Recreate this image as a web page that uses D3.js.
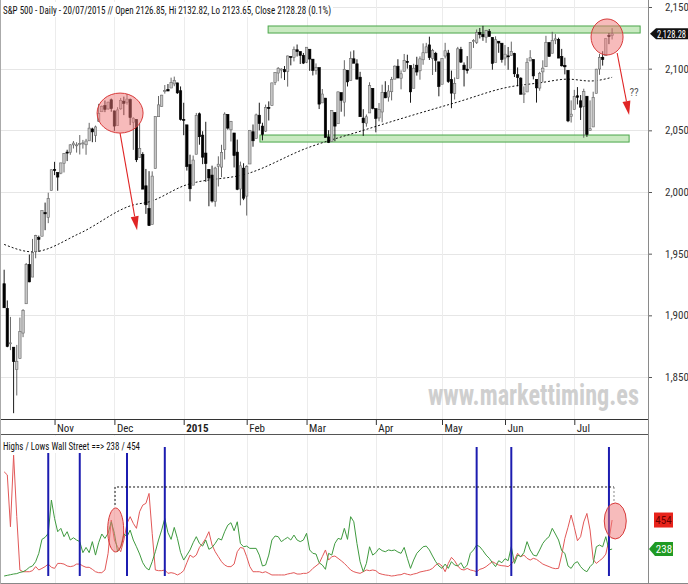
<!DOCTYPE html>
<html><head><meta charset="utf-8">
<script src="https://cdn.jsdelivr.net/npm/d3@7"></script>
<style>body{margin:0;background:#fff}svg{display:block}</style>
</head><body>
<svg id="chart" width="688" height="584"></svg>
<script>
// ---------- DATA ----------
const dates = [
"2014-10-10","2014-10-13","2014-10-14","2014-10-15","2014-10-16","2014-10-17","2014-10-20","2014-10-21","2014-10-22","2014-10-23","2014-10-24","2014-10-27","2014-10-28","2014-10-29","2014-10-30","2014-10-31",
"2014-11-03","2014-11-04","2014-11-05","2014-11-06","2014-11-07","2014-11-10","2014-11-11","2014-11-12","2014-11-13","2014-11-14","2014-11-17","2014-11-18","2014-11-19","2014-11-20","2014-11-21","2014-11-24","2014-11-25","2014-11-26","2014-11-28",
"2014-12-01","2014-12-02","2014-12-03","2014-12-04","2014-12-05","2014-12-08","2014-12-09","2014-12-10","2014-12-11","2014-12-12","2014-12-15","2014-12-16","2014-12-17","2014-12-18","2014-12-19","2014-12-22","2014-12-23","2014-12-24","2014-12-26","2014-12-29","2014-12-30","2014-12-31",
"2015-01-02","2015-01-05","2015-01-06","2015-01-07","2015-01-08","2015-01-09","2015-01-12","2015-01-13","2015-01-14","2015-01-15","2015-01-16","2015-01-20","2015-01-21","2015-01-22","2015-01-23","2015-01-26","2015-01-27","2015-01-28","2015-01-29","2015-01-30",
"2015-02-02","2015-02-03","2015-02-04","2015-02-05","2015-02-06","2015-02-09","2015-02-10","2015-02-11","2015-02-12","2015-02-13","2015-02-17","2015-02-18","2015-02-19","2015-02-20","2015-02-23","2015-02-24","2015-02-25","2015-02-26","2015-02-27",
"2015-03-02","2015-03-03","2015-03-04","2015-03-05","2015-03-06","2015-03-09","2015-03-10","2015-03-11","2015-03-12","2015-03-13","2015-03-16","2015-03-17","2015-03-18","2015-03-19","2015-03-20","2015-03-23","2015-03-24","2015-03-25","2015-03-26","2015-03-27","2015-03-30","2015-03-31",
"2015-04-01","2015-04-02","2015-04-06","2015-04-07","2015-04-08","2015-04-09","2015-04-10","2015-04-13","2015-04-14","2015-04-15","2015-04-16","2015-04-17","2015-04-20","2015-04-21","2015-04-22","2015-04-23","2015-04-24","2015-04-27","2015-04-28","2015-04-29","2015-04-30",
"2015-05-01","2015-05-04","2015-05-05","2015-05-06","2015-05-07","2015-05-08","2015-05-11","2015-05-12","2015-05-13","2015-05-14","2015-05-15","2015-05-18","2015-05-19","2015-05-20","2015-05-21","2015-05-22","2015-05-26","2015-05-27","2015-05-28","2015-05-29",
"2015-06-01","2015-06-02","2015-06-03","2015-06-04","2015-06-05","2015-06-08","2015-06-09","2015-06-10","2015-06-11","2015-06-12","2015-06-15","2015-06-16","2015-06-17","2015-06-18","2015-06-19","2015-06-22","2015-06-23","2015-06-24","2015-06-25","2015-06-26","2015-06-29","2015-06-30",
"2015-07-01","2015-07-02","2015-07-06","2015-07-07","2015-07-08","2015-07-09","2015-07-10","2015-07-13","2015-07-14","2015-07-15","2015-07-16","2015-07-17","2015-07-20"];

const opens = [
1925.63,1905.65,1877.11,1874.18,1855.95,1864.91,1885.62,1909.38,1941.29,1931.02,1951.59,1962.97,1964.14,1983.29,1979.49,2001.20,
2018.21,2015.81,2015.29,2023.33,2032.36,2032.01,2038.20,2037.75,2039.21,2039.74,2038.29,2041.48,2051.16,2045.87,2057.46,2065.07,2070.15,2067.36,2074.78,
2065.78,2053.77,2067.45,2073.64,2072.78,2074.84,2056.55,2058.86,2027.92,2030.36,2005.03,1986.71,1973.77,2018.98,2061.04,2069.28,2081.48,2083.25,2084.30,2087.63,2088.49,2082.11,
2058.90,2054.44,2022.15,2005.55,2030.61,2063.45,2046.13,2031.58,2018.40,2013.75,1992.25,2020.76,2020.19,2034.30,2062.98,2050.42,2047.86,2032.34,2002.45,2019.35,
1996.67,2022.71,2048.86,2043.45,2062.28,2053.47,2049.38,2068.55,2069.98,2088.78,2096.47,2099.16,2099.25,2097.65,2109.83,2109.10,2115.30,2113.91,2110.88,
2105.23,2115.76,2107.72,2098.54,2100.91,2072.25,2076.14,2044.69,2041.10,2064.56,2055.35,2080.59,2072.84,2098.69,2090.32,2107.99,2103.94,2093.10,2059.94,2055.78,2064.11,2084.05,
2067.63,2060.03,2064.87,2080.79,2076.94,2081.29,2091.51,2102.03,2092.28,2097.82,2105.96,2102.58,2084.11,2102.82,2098.27,2107.21,2112.80,2119.29,2108.35,2112.49,2105.52,
2087.38,2110.23,2112.63,2091.26,2079.96,2092.13,2115.56,2102.87,2099.62,2100.43,2122.07,2121.30,2129.45,2127.79,2125.55,2130.36,2125.34,2105.13,2122.27,2120.66,
2108.64,2110.41,2110.64,2112.35,2095.09,2092.34,2079.07,2081.12,2106.24,2107.43,2091.34,2084.26,2097.40,2101.58,2121.06,2112.50,2123.16,2123.65,2109.96,2102.62,2098.63,2061.19,
2067.00,2078.03,2073.95,2069.52,2077.66,2049.73,2052.74,2080.03,2099.72,2109.22,2110.55,2126.80,2126.85];

const highs = [
1936.98,1912.09,1898.71,1874.18,1876.01,1898.16,1905.03,1942.45,1949.31,1961.95,1965.27,1964.64,1985.05,1991.40,1999.40,2018.19,
2024.46,2015.98,2023.77,2031.61,2034.26,2038.70,2041.28,2040.33,2046.18,2042.22,2043.07,2056.08,2052.14,2053.84,2071.46,2070.17,2074.21,2073.29,2075.76,
2065.78,2068.77,2076.28,2077.34,2079.47,2075.78,2060.60,2058.86,2055.53,2032.25,2018.69,2016.89,2016.75,2061.23,2077.85,2078.76,2086.73,2087.56,2092.70,2093.55,2088.49,2085.58,
2072.36,2054.44,2030.25,2029.61,2064.08,2064.43,2049.30,2056.93,2018.40,2021.35,2020.46,2028.94,2038.29,2064.62,2062.98,2057.62,2047.86,2042.49,2024.64,2023.32,
2021.66,2050.30,2054.74,2063.55,2072.40,2056.16,2070.86,2073.48,2088.53,2097.03,2101.30,2100.23,2102.13,2110.61,2110.05,2117.94,2119.59,2113.91,2112.74,
2117.52,2115.76,2107.72,2104.25,2100.91,2083.49,2076.14,2050.08,2066.41,2064.56,2081.41,2080.59,2106.85,2098.69,2113.92,2114.86,2107.63,2097.43,2067.15,2062.83,2088.97,2084.05,
2067.63,2072.17,2086.99,2089.81,2086.69,2093.31,2102.61,2107.65,2098.62,2111.91,2111.30,2102.58,2103.94,2109.64,2109.98,2120.49,2120.92,2125.92,2116.04,2113.65,2105.52,
2108.41,2120.95,2115.24,2098.42,2092.90,2117.66,2117.69,2105.06,2110.19,2121.45,2123.89,2131.78,2133.02,2134.72,2131.42,2132.15,2125.34,2126.22,2122.27,2120.66,
2119.15,2117.59,2121.92,2112.89,2100.99,2093.01,2085.62,2108.50,2115.02,2107.43,2091.34,2097.40,2106.79,2126.65,2121.64,2129.87,2128.03,2125.10,2116.04,2108.92,2098.63,2074.28,
2082.78,2085.06,2078.61,2083.74,2077.66,2074.28,2081.31,2099.88,2111.98,2114.14,2124.42,2128.91,2132.82];

const lows = [
1906.05,1874.14,1871.79,1820.66,1835.02,1864.91,1882.30,1909.38,1926.83,1931.02,1946.27,1951.37,1964.14,1969.04,1974.75,2001.20,
2013.68,2001.01,2014.42,2015.86,2025.07,2030.17,2035.28,2031.95,2030.44,2035.20,2030.20,2041.48,2040.37,2040.49,2056.75,2065.07,2064.75,2066.62,2065.06,
2049.57,2053.77,2066.65,2062.34,2070.81,2054.27,2034.17,2024.26,2027.92,2002.33,1982.26,1972.56,1973.77,2018.98,2061.03,2069.28,2079.77,2081.86,2084.30,2085.75,2079.53,2057.94,
2046.04,2017.34,1992.44,2005.55,2030.61,2038.33,2022.58,2008.25,1988.44,1991.47,1988.12,2004.49,2012.04,2026.38,2050.54,2040.97,2019.91,2001.49,1989.18,1993.38,
1980.90,2022.71,2036.72,2043.45,2049.97,2041.88,2048.62,2057.99,2069.98,2086.70,2089.80,2092.15,2090.79,2085.44,2102.68,2105.87,2109.89,2103.76,2103.75,
2104.50,2098.26,2094.49,2095.22,2067.27,2072.21,2044.16,2039.69,2041.10,2041.17,2055.35,2065.08,2061.23,2085.56,2090.32,2104.42,2091.50,2061.05,2045.50,2052.96,2064.11,2067.04,
2048.38,2057.32,2056.52,2076.10,2073.30,2074.29,2091.51,2092.33,2083.24,2097.82,2100.02,2072.37,2084.11,2094.38,2091.05,2103.19,2112.80,2107.04,2094.89,2097.41,2077.59,
2087.38,2108.29,2088.46,2067.93,2074.99,2092.13,2104.58,2085.57,2096.04,2100.43,2116.81,2120.01,2124.50,2122.59,2120.94,2126.06,2099.18,2105.13,2112.86,2104.89,
2102.54,2099.14,2110.64,2093.23,2085.67,2079.11,2072.14,2081.12,2106.24,2091.33,2072.49,2082.10,2088.86,2101.58,2109.45,2112.50,2119.89,2108.58,2101.78,2095.38,2056.64,2056.32,
2067.00,2071.02,2058.40,2044.02,2044.66,2049.73,2052.74,2080.03,2095.02,2102.49,2110.55,2119.88,2123.65];

const closes = [
1906.13,1874.74,1877.70,1862.49,1862.76,1886.76,1904.01,1941.28,1927.11,1950.82,1964.58,1961.63,1985.05,1982.30,1994.65,2018.05,
2017.81,2012.10,2023.57,2031.21,2031.92,2038.26,2039.68,2038.25,2039.33,2039.82,2041.32,2051.80,2048.72,2052.75,2063.50,2069.41,2067.03,2072.83,2067.56,
2053.44,2066.55,2074.33,2071.92,2075.37,2060.31,2059.82,2026.14,2035.33,2002.33,1989.63,1972.74,2012.89,2061.23,2070.65,2078.54,2082.17,2081.88,2088.77,2090.57,2080.35,2058.90,
2058.20,2020.58,2002.61,2025.90,2062.14,2044.81,2028.26,2023.03,2011.27,1992.67,2019.42,2022.55,2032.12,2063.15,2051.82,2057.09,2029.55,2002.16,2021.25,1994.99,
2020.85,2050.03,2041.51,2062.52,2055.47,2046.74,2068.59,2068.53,2088.48,2096.99,2100.34,2099.68,2097.45,2110.30,2109.66,2115.48,2113.86,2110.74,2104.50,
2117.39,2107.78,2098.53,2101.04,2071.26,2079.43,2044.16,2040.24,2065.95,2053.40,2081.19,2074.28,2099.50,2089.27,2108.10,2104.42,2091.50,2061.05,2056.15,2061.02,2086.24,2067.89,
2059.69,2066.96,2080.62,2076.33,2081.90,2091.18,2102.06,2092.43,2095.84,2106.63,2104.99,2081.18,2100.40,2097.29,2107.96,2112.93,2117.69,2108.92,2114.76,2106.85,2085.51,
2108.29,2114.49,2089.46,2080.15,2088.00,2116.10,2105.33,2099.12,2098.48,2121.10,2122.73,2129.20,2127.83,2125.85,2130.82,2126.06,2104.20,2123.48,2120.79,2107.39,
2111.73,2109.60,2114.07,2095.84,2092.83,2079.28,2080.15,2105.20,2108.86,2094.11,2084.43,2096.29,2100.44,2121.24,2109.99,2122.85,2124.20,2108.58,2102.31,2101.49,2057.64,2063.11,
2077.42,2076.78,2068.76,2081.34,2046.68,2051.31,2076.62,2099.60,2108.95,2107.40,2124.29,2126.64,2128.28];

// moving average (dotted line)
const maDates  = ["2014-10-10","2014-10-23","2014-11-13","2014-12-09","2014-12-16","2015-01-02","2015-02-03","2015-03-02","2015-03-26","2015-04-16","2015-05-08","2015-06-02","2015-06-16","2015-06-29","2015-07-09","2015-07-20"];
const maValues = [1957.5,1951.5,1966.5,1989.5,1992,2005,2015.5,2035.5,2050,2061,2073,2085,2088.5,2091.5,2090,2093];

// Highs / Lows Wall Street (lower panel)
const lowsCount = [813,790,404,937,479,82,69,69,69,77,107,82,94,107,126,102,94,131,131,126,112,107,112,126,126,112,102,102,87,69,62,62,82,206,454,305,255,218,305,429,479,429,392,516,565,578,652,355,82,77,77,82,57,62,57,45,57,77,136,193,176,193,250,280,317,367,268,218,181,144,119,107,107,126,218,250,243,181,107,69,69,69,62,69,57,45,45,45,45,45,52,57,62,52,52,57,57,69,94,112,131,181,231,156,181,186,169,151,131,107,82,69,62,57,69,82,77,82,77,57,50,45,42,37,40,45,47,57,50,45,52,57,67,72,77,82,94,119,131,112,69,131,176,151,112,87,82,94,82,77,69,87,94,107,126,144,131,119,114,112,107,126,156,206,181,193,169,156,169,161,144,126,116,107,97,92,94,193,317,400,491,400,300,330,440,503,380,160,131,151,169,200,305,454];
const highsCount = [37,42,47,52,55,64,69,82,102,112,144,206,310,325,355,603,466,367,392,330,367,305,322,305,293,211,250,211,293,193,285,350,317,355,441,355,218,255,350,330,379,305,255,201,136,99,82,144,218,305,379,466,360,310,399,317,213,156,193,231,285,330,280,260,305,236,250,280,317,305,367,416,434,374,441,280,255,260,243,243,243,193,112,119,193,305,335,330,293,310,325,305,342,305,293,305,355,231,206,201,136,119,87,206,193,280,317,310,392,310,479,441,280,144,69,131,255,193,211,243,226,218,231,226,231,216,206,250,169,94,156,206,231,255,260,231,186,144,112,94,126,94,144,119,112,136,94,119,206,231,268,255,226,193,169,136,107,151,136,166,151,255,131,193,181,211,293,231,193,186,231,280,310,330,392,350,305,226,206,112,94,131,144,107,82,69,107,131,255,268,255,330,231,238];

const priceTicks = [1850,1900,1950,2000,2050,2100,2150];
const blueLineDates = ["2014-10-30","2014-11-13","2014-12-05","2014-12-23","2015-05-18","2015-06-03","2015-07-17"];

// annotations (data units: bar index / price / count)
const zoneHigh = {from: 83.8, to: 201.9, lo: 2128.9, hi: 2134.6};
const zoneLow  = {from: 81.2, to: 198.4, lo: 2040.5, hi: 2046.2};
const titleText = "S&P 500 - Daily - 20/07/2015 // Open 2126.85, Hi 2132.82, Lo 2123.65, Close 2128.28 (0.1%)";
const lowerTitle = "Highs / Lows Wall Street ==> 238 / 454";
const lastClose = 2128.28, lastHighs = 238, lastLows = 454;

// ---------- CHART ----------
const FONT = "'Liberation Sans Narrow','Arial Narrow','Roboto Condensed','Liberation Sans',Arial,sans-serif";
const svg = d3.select("#chart");
const n = dates.length;
const parse = d3.timeParse("%Y-%m-%d");
const dt = dates.map(parse);
const idxOf = s => dates.indexOf(s);

const x = d3.scaleLinear().domain([0, n - 1]).range([4.15, 612.1]);
const y = d3.scaleLinear().domain([1850, 2150]).range([377, 7]);
const yL = d3.scaleLinear().domain([0, 1000]).range([581, 446.7]);

const defs = svg.append("defs");
defs.append("clipPath").attr("id", "cm").append("rect").attr("x", 0).attr("y", 0).attr("width", 648).attr("height", 419);
defs.append("clipPath").attr("id", "cl").append("rect").attr("x", 0).attr("y", 435).attr("width", 648).attr("height", 148);

const monthIdx = d3.range(1, n).filter(i => dt[i].getMonth() !== dt[i - 1].getMonth());
const monthLabel = i => dt[i].getMonth() === 0 ? String(dt[i].getFullYear()) : d3.timeFormat("%b")(dt[i]);

// grids
const grid = svg.append("g").attr("shape-rendering", "crispEdges");
grid.selectAll(".hg").data(priceTicks).join("line")
  .attr("x1", 0).attr("x2", 648).attr("y1", d => Math.round(y(d)) + 0.5).attr("y2", d => Math.round(y(d)) + 0.5)
  .attr("stroke", "#e6e6e6");
monthIdx.forEach(i => {
  const xx = Math.round(x(i)) + 0.5;
  grid.append("line").attr("x1", xx).attr("x2", xx).attr("y1", 0).attr("y2", 419).attr("stroke", "#ececec");
  grid.append("line").attr("x1", xx).attr("x2", xx).attr("y1", 435).attr("y2", 583).attr("stroke", "#ececec");
});

// watermark
svg.append("text").attr("x", 428).attr("y", 405).attr("textLength", 211).attr("lengthAdjust", "spacingAndGlyphs")
  .attr("font-family", FONT).attr("font-size", 30).attr("font-weight", "bold").attr("fill", "#cfcfcf")
  .text("www.markettiming.es");

const main = svg.append("g").attr("clip-path", "url(#cm)");

// zones
[zoneHigh, zoneLow].forEach(z => {
  main.append("rect").attr("x", x(z.from)).attr("width", x(z.to) - x(z.from))
    .attr("y", y(z.hi)).attr("height", y(z.lo) - y(z.hi))
    .attr("fill", "#bfe6b6").attr("fill-opacity", 0.85).attr("stroke", "#4aa64a").attr("stroke-width", 1);
});

// moving average
const maLine = d3.line().x(d => x(idxOf(d[0]))).y(d => y(d[1])).curve(d3.curveMonotoneX);
main.append("path").datum(maDates.map((d, i) => [d, maValues[i]]))
  .attr("d", maLine).attr("fill", "none").attr("stroke", "#111").attr("stroke-width", 1).attr("stroke-dasharray", "2,2");

// candles
const cg = main.append("g");
d3.range(n).forEach(i => {
  const up = closes[i] >= opens[i];
  const cx = x(i);
  cg.append("line").attr("x1", cx).attr("x2", cx).attr("y1", y(highs[i])).attr("y2", y(lows[i]))
    .attr("stroke", up ? "#555" : "#000").attr("stroke-width", 0.9);
  const top = y(Math.max(opens[i], closes[i])), bot = y(Math.min(opens[i], closes[i]));
  cg.append("rect").attr("x", cx - 1.2).attr("width", 2.4).attr("y", top).attr("height", Math.max(1, bot - top))
    .attr("fill", up ? "#c6c6c6" : "#000").attr("stroke", up ? "#6a6a6a" : "#000").attr("stroke-width", 0.6);
});

// red ellipses + arrows (main)
function ellipse(g, cx, cy, rx, ry) {
  g.append("ellipse").attr("cx", cx).attr("cy", cy).attr("rx", rx).attr("ry", ry)
    .attr("fill", "#f07878").attr("fill-opacity", 0.5).attr("stroke", "#d83a3a").attr("stroke-width", 1);
}
function arrow(g, x1, y1, x2, y2) {
  const a = Math.atan2(y2 - y1, x2 - x1), L = 14, Wd = 4;
  const bx = x2 - L * Math.cos(a), by = y2 - L * Math.sin(a);
  g.append("line").attr("x1", x1).attr("y1", y1).attr("x2", bx).attr("y2", by).attr("stroke", "#e02525").attr("stroke-width", 1.1);
  g.append("path").attr("d", `M${x2},${y2}L${bx + Wd * Math.sin(a)},${by - Wd * Math.cos(a)}L${bx - Wd * Math.sin(a)},${by + Wd * Math.cos(a)}Z`)
    .attr("fill", "#e02525");
}
ellipse(main, x(36.8), y(2064), 23, 20);
arrow(main, x(36.8), y(2047.8), x(42.2), y(1969));
ellipse(main, x(191.4), y(2125.7), 16, 18);
arrow(main, x(194.6), y(2112.7), x(198.4), y(2062.4));
main.append("text").attr("x", x(198.5)).attr("y", y(2078)).attr("font-family", FONT).attr("font-size", 11).attr("fill", "#555").text("??");

// title
svg.append("rect").attr("x", 1).attr("y", 2).attr("width", 332).attr("height", 15).attr("fill", "#fff");
svg.append("text").attr("x", 3).attr("y", 13.5).attr("textLength", 328).attr("lengthAdjust", "spacingAndGlyphs")
  .attr("font-family", FONT).attr("font-size", 11.5).attr("fill", "#111").text(titleText);

// right price axis
const ax = svg.append("g").attr("transform", "translate(648,0)")
  .call(d3.axisRight(y).tickValues(priceTicks).tickFormat(d3.format(",")).tickSize(4).tickPadding(13));
ax.select(".domain").remove();
ax.selectAll("line").attr("stroke", "#555");
ax.selectAll("text").attr("font-family", FONT).attr("font-size", 11).attr("fill", "#333");

// last price tag
const ly = y(lastClose);
svg.append("path").attr("d", `M650,${ly}L656,${ly - 5.5}L688,${ly - 5.5}L688,${ly + 5.5}L656,${ly + 5.5}Z`).attr("fill", "#111");
svg.append("text").attr("x", 657).attr("y", ly + 3.8).attr("textLength", 29).attr("lengthAdjust", "spacingAndGlyphs")
  .attr("font-family", FONT).attr("font-size", 10).attr("fill", "#fff").text(d3.format(",.2f")(lastClose));

// bottom date axis
const bx = svg.append("g").attr("transform", "translate(0,419)")
  .call(d3.axisBottom(x).tickValues(monthIdx).tickFormat(monthLabel).tickSize(6));
bx.select(".domain").remove();
bx.selectAll("line").attr("stroke", "#333");
bx.selectAll("text").attr("text-anchor", "start").attr("x", 2).attr("y", 13.3).attr("dy", 0)
  .attr("font-family", FONT).attr("font-size", 11).attr("fill", "#222")
  .attr("font-weight", (d) => dt[d].getMonth() === 0 ? "bold" : "normal");

// lower panel
const low = svg.append("g").attr("clip-path", "url(#cl)");
const lineL = d3.line().x((d, i) => x(i)).y(d => yL(d));
low.append("path").datum(lowsCount).attr("d", lineL).attr("fill", "none").attr("stroke", "#e25858").attr("stroke-width", 1);
low.append("path").datum(highsCount).attr("d", lineL).attr("fill", "none").attr("stroke", "#3f9a3f").attr("stroke-width", 1);

blueLineDates.forEach(d => {
  const xx = x(idxOf(d));
  low.append("line").attr("x1", xx).attr("x2", xx).attr("y1", 447).attr("y2", 576).attr("stroke", "#1c1cb0").attr("stroke-width", 2);
});

// dotted bracket
low.append("path").attr("d", `M${x(35.2)},${yL(380) - 25}L${x(35.2)},${yL(700)}L${x(193.6)},${yL(700)}`)
  .attr("fill", "none").attr("stroke", "#111").attr("stroke-dasharray", "2,2");
low.append("line").attr("x1", x(193.6)).attr("x2", x(193.6)).attr("y1", yL(700)).attr("y2", yL(447) - 18)
  .attr("stroke", "#888").attr("stroke-dasharray", "2,2");
ellipse(low, x(35.4), yL(380), 8, 22);
ellipse(low, x(194), yL(447), 11, 18);

// lower title
svg.append("rect").attr("x", 1).attr("y", 436).attr("width", 141).attr("height", 17).attr("fill", "#fff");
svg.append("text").attr("x", 3).attr("y", 450).attr("textLength", 137).attr("lengthAdjust", "spacingAndGlyphs")
  .attr("font-family", FONT).attr("font-size", 10.5).attr("fill", "#111").text(lowerTitle);

// lower value tags
const ry = yL(lastLows), gy = yL(lastHighs);
svg.append("rect").attr("x", 654).attr("y", ry - 7.5).attr("width", 19).attr("height", 15).attr("fill", "#e8231b");
svg.append("text").attr("x", 663.5).attr("y", ry + 4).attr("text-anchor", "middle").attr("font-family", FONT)
  .attr("font-size", 11).attr("fill", "#6a0000").text(lastLows);
svg.append("path").attr("d", `M649,${gy}L655,${gy - 7}L673,${gy - 7}L673,${gy + 7}L655,${gy + 7}Z`).attr("fill", "#1f9a24");
svg.append("text").attr("x", 664).attr("y", gy + 4).attr("text-anchor", "middle").attr("font-family", FONT)
  .attr("font-size", 11).attr("fill", "#fff").text(lastHighs);

// frame lines
const fr = svg.append("g").attr("shape-rendering", "crispEdges").attr("fill", "none");
fr.append("line").attr("x1", 648.5).attr("x2", 648.5).attr("y1", 0).attr("y2", 584).attr("stroke", "#8a8a8a");
fr.append("line").attr("x1", 0).attr("x2", 648).attr("y1", 419.5).attr("y2", 419.5).attr("stroke", "#333");
fr.append("line").attr("x1", 0).attr("x2", 648).attr("y1", 434.5).attr("y2", 434.5).attr("stroke", "#555");
fr.append("line").attr("x1", 0).attr("x2", 688).attr("y1", 583.5).attr("y2", 583.5).attr("stroke", "#888");
fr.append("line").attr("x1", 0.5).attr("x2", 0.5).attr("y1", 0).attr("y2", 584).attr("stroke", "#aaa");
</script>
</body></html>
